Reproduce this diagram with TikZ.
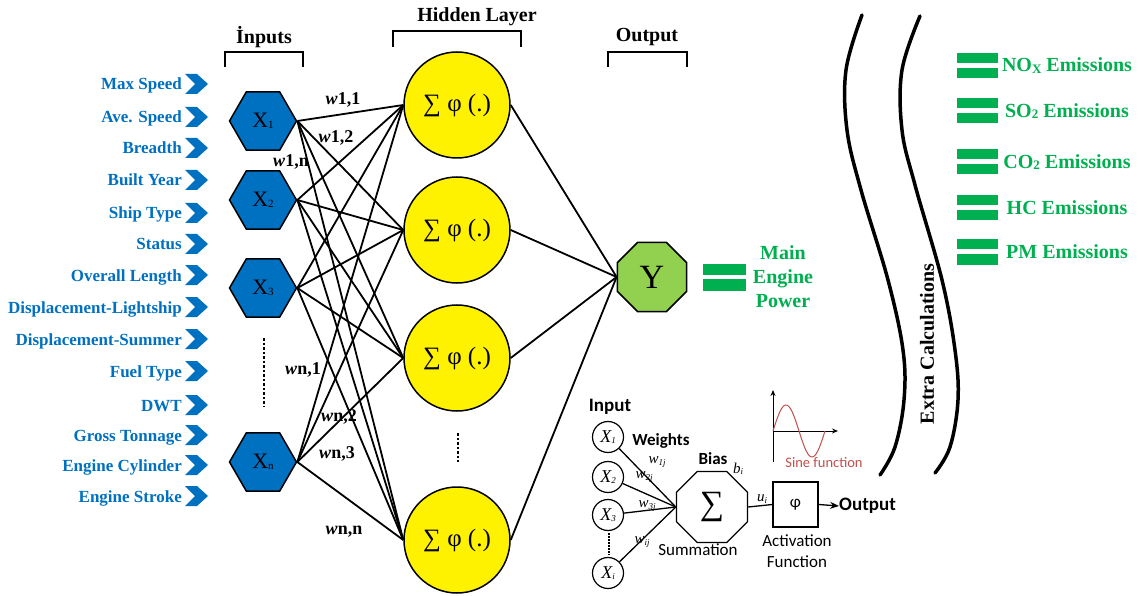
\documentclass[tikz,border=0pt]{standalone}
\usepackage{fontspec}
\setmainfont{Liberation Serif}
\newfontfamily\carl{Carlito}
\usetikzlibrary{shapes.geometric,arrows.meta}
\definecolor{inblue}{HTML}{0070C0}
\definecolor{egreen}{HTML}{00B050}
\definecolor{ygreen}{HTML}{92D050}
\definecolor{sinered}{HTML}{C0504D}
\newcommand\mysub[2]{\raisebox{-1.5pt}{\fontsize{#1}{#1}\selectfont #2}}
\tikzset{
 inlabel/.style={anchor=base east, inner sep=0pt, text=inblue, font=\fontsize{17}{17}\selectfont\bfseries},
 hexnode/.style={regular polygon, regular polygon sides=6, minimum size=67pt, inner sep=0pt, fill=inblue, draw=black, line width=1.5pt, font=\fontsize{22}{22}\selectfont},
 hidnode/.style={circle, minimum size=106pt, inner sep=0pt, fill=yellow, draw=black, line width=1.5pt, font=\fontsize{25}{25}\selectfont},
 outnode/.style={regular polygon, regular polygon sides=8, minimum size=75pt, inner sep=0pt, fill=ygreen, draw=black, line width=1.5pt, font=\fontsize{34}{34}\selectfont},
 conn/.style={line width=1.8pt},
 wlabel/.style={inner sep=0pt, font=\fontsize{18}{18}\selectfont\bfseries},
 ttl/.style={inner sep=0pt, font=\fontsize{20}{20}\selectfont\bfseries},
 brk/.style={line width=1.8pt},
 greentxt/.style={inner sep=0pt, text=egreen, font=\fontsize{20}{24}\selectfont\bfseries},
 wave/.style={line width=3.5pt, line cap=round},
 dotsline/.style={line width=2pt, dash pattern=on 2.5pt off 2pt},
 smallin/.style={circle, draw=black, line width=1.2pt, minimum size=31pt, inner sep=0pt, font=\fontsize{18}{18}\selectfont\itshape},
 inset/.style={line width=1.3pt},
 sanslbl/.style={inner sep=0pt, font=\carl\fontsize{17}{21}\selectfont},
 sansbold/.style={inner sep=0pt, font=\carl\bfseries\fontsize{19}{19}\selectfont},
 wsmall/.style={inner sep=0pt, font=\fontsize{15}{15}\selectfont\itshape},
}
\begin{document}
\begin{tikzpicture}[x=1pt,y=-1pt]
\path[use as bounding box, fill=white] (0,0) rectangle (1138,596);

% input labels and chevrons
\foreach \t/\yy [count=\i] in {Max Speed/84, Ave. Speed/117, Breadth/148, Built Year/180, Ship Type/213, Status/244, Overall Length/275, Displacement-Lightship/307, Displacement-Summer/339, Fuel Type/371, DWT/405, Gross Tonnage/435, Engine Cylinder/465, Engine Stroke/496}{
  \node[inlabel] (in\i) at (182,\yy+6) {\t};
  \fill[inblue] (185,\yy-10) -- (197,\yy-10) -- (208,\yy) -- (197,\yy+10) -- (185,\yy+10) -- (195,\yy) -- cycle;
}

% titles and brackets
\node[ttl] (tin) at (264,37) {İnputs};
\draw[brk] (225,67) -- (225,52) -- (303,52) -- (303,67);
\node[ttl] (thid) at (477,17) {Hidden Layer};
\draw[brk] (393,47) -- (393,31) -- (521,31) -- (521,47);
\node[ttl] (tout) at (647,37) {Output};
\draw[brk] (608,67) -- (608,52) -- (687,52) -- (687,67);

% input hexagons
\node[hexnode] (x1) at (263,121) {X\mysub{11}{1}};
\node[hexnode] (x2) at (263,200) {X\mysub{11}{2}};
\node[hexnode] (x3) at (263,288) {X\mysub{11}{3}};
\node[hexnode] (xn) at (263,462) {X\mysub{11}{n}};
\draw[dotsline] (264,338) -- (264,407);

% hidden nodes
\node[hidnode] (h1) at (457,105) {∑ φ (.)};
\node[hidnode] (h2) at (457,230) {∑ φ (.)};
\node[hidnode] (h3) at (457,358) {∑ φ (.)};
\node[hidnode] (h4) at (457,540) {∑ φ (.)};
\draw[dotsline] (458,433) -- (458,462);

% output node
\node[outnode] (y) at (652,277) {Y};

% connections
\foreach \a in {x1,x2,x3,xn}{
  \foreach \b in {h1,h2,h3,h4}{
    \draw[conn] (\a.east) -- (\b.west);
  }
}
\foreach \b in {h1,h2,h3,h4}{
  \draw[conn] (\b.east) -- (y.west);
}

% weight labels
\node[wlabel] (w11) at (343,100) {\textit{w}1,1};
\node[wlabel] (w12) at (336,138) {\textit{w}1,2};
\node[wlabel] (w1n) at (291,162) {\textit{w}1,n};
\node[wlabel] (wn1) at (303,370) {\textit{w}n,1};
\node[wlabel] (wn2) at (339,417) {\textit{w}n,2};
\node[wlabel] (wn3) at (337,454) {\textit{w}n,3};
\node[wlabel] (wnn) at (344,532) {\textit{w}n,n};

% main engine power
\fill[egreen] (703,264) rectangle (746,275);
\fill[egreen] (703,279) rectangle (746,291);
\node[greentxt, align=center] (mep) at (783,277) {Main\\Engine\\Power};

% extra calculation curves
\draw[wave] plot[smooth, tension=0.6] coordinates {(862,15) (846,70) (847,130) (861,190) (888,280) (903,350) (904,400) (895,447) (880,475)};
\draw[wave] plot[smooth, tension=0.6] coordinates {(920,16) (902,70) (902,130) (915,185) (942,280) (955,350) (958,400) (950,447) (935,473)};
\node[ttl, rotate=90] (extra) at (927,344) {Extra Calculations};

% emissions
\foreach \t/\yy [count=\i] in {NO\mysub{13}{X} Emissions/65.5, SO\mysub{13}{2} Emissions/111, CO\mysub{13}{2} Emissions/162, HC Emissions/208, PM Emissions/252}{
  \fill[egreen] (957,\yy-12.5) rectangle (998,\yy-2.5);
  \fill[egreen] (957,\yy+2.5) rectangle (998,\yy+12.5);
  \node[greentxt] (em\i) at (1067,\yy) {\t};
}

% inset neuron
\node[sansbold] (inp) at (610,407) {Input};
\node[smallin] (c1) at (608,437) {X\mysub{9}{1}};
\node[smallin] (c2) at (608,477) {X\mysub{9}{2}};
\node[smallin] (c3) at (608,515) {X\mysub{9}{3}};
\node[smallin] (ci) at (608,573) {X\mysub{9}{i}};
\draw[line width=1.2pt, dash pattern=on 1.5pt off 1.5pt] (609,533) -- (609,555);
\node[regular polygon, regular polygon sides=8, minimum size=77pt, inner sep=0pt, draw=black, line width=1.3pt, font=\fontsize{34}{34}\selectfont] (sum) at (712,507) {∑};
\foreach \c in {c1,c2,c3,ci}{
  \draw[inset] (\c) -- (sum.west);
}
\node[sansbold, font=\carl\bfseries\fontsize{17}{17}\selectfont] (wts) at (661,441) {Weights};
\node[wsmall] (lw1) at (657,462) {w\mysub{9}{1j}};
\node[wsmall] (lw2) at (644,477) {w\mysub{9}{2j}};
\node[wsmall] (lw3) at (647,506) {w\mysub{9}{3j}};
\node[wsmall] (lwi) at (642,542) {w\mysub{9}{ij}};
\node[sansbold, font=\carl\bfseries\fontsize{17}{17}\selectfont] (bias) at (713,459) {Bias};
\node[wsmall] (bi) at (738,469) {b\mysub{9}{i}};
\node[sanslbl] (summ) at (698,550) {Summation};
\node[draw=black, line width=1.3pt, minimum width=45pt, minimum height=45pt, inner sep=0pt, font=\carl\fontsize{17}{17}\selectfont] (act) at (795.5,504.5) {φ};
\draw[inset] (sum.east) -- (act.west);
\node[wsmall] (ui) at (762,499) {u\mysub{9}{i}};
\node[sansbold, anchor=west] (outp) at (839,506) {Output};
\draw[inset, -{Stealth[length=9pt,width=7pt]}] (act.east) -- (outp.west);
\node[sanslbl, align=center] (actf) at (797,551) {Activation\\Function};

% sine plot
\draw[line width=1pt, -{Stealth[length=6pt,width=5pt]}] (773,462) -- (773,390);
\draw[line width=1pt, -{Stealth[length=6pt,width=5pt]}] (773,431) -- (838,431);
\draw[sinered, line width=1pt] plot[domain=0:52, samples=60, smooth] ({773+\x}, {431-26*sin(\x/52*360)});
\node[sanslbl, text=sinered, font=\carl\fontsize{14.5}{14.5}\selectfont] (sinel) at (824,463) {Sine function};
\end{tikzpicture}
\end{document}
